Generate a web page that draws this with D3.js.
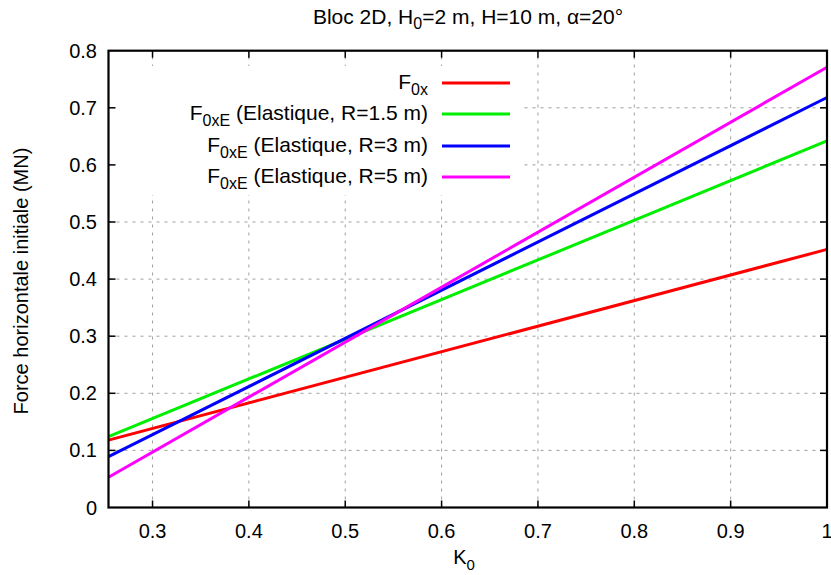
<!DOCTYPE html>
<html><head><meta charset="utf-8">
<script src="https://cdn.jsdelivr.net/npm/d3@7"></script>
<style>
body{margin:0;background:#fff;}
text{font-family:"Liberation Sans",Arial,Helvetica,sans-serif;fill:#000;}
</style></head>
<body>
<svg id="c" width="831" height="575"></svg>
<script>
// Data
const k0 = [0.2543, 1.0];
const f0x = [0.118, 0.452];
const f0xE_R15 = [0.124, 0.642];
const f0xE_R3 = [0.089, 0.718];
const f0xE_R5 = [0.053, 0.771];
const xTicks = [0.3, 0.4, 0.5, 0.6, 0.7, 0.8, 0.9, 1.0];
const xTickLabels = ["0.3","0.4","0.5","0.6","0.7","0.8","0.9","1"];
const yTicks = [0, 0.1, 0.2, 0.3, 0.4, 0.5, 0.6, 0.7, 0.8];
const yTickLabels = ["0","0.1","0.2","0.3","0.4","0.5","0.6","0.7","0.8"];
const seriesLabels = [
  {sub:"0x", rest:""},
  {sub:"0xE", rest:" (Elastique, R=1.5 m)"},
  {sub:"0xE", rest:" (Elastique, R=3 m)"},
  {sub:"0xE", rest:" (Elastique, R=5 m)"}
];
const seriesValues = [f0x, f0xE_R15, f0xE_R3, f0xE_R5];
const seriesColors = ["#ff0000", "#00ee00", "#0000ff", "#ff00ff"];

const svg = d3.select("#c");
const L = 108.5, R = 827, T = 50.7, B = 507.5;
const x = d3.scaleLinear().domain([0.2543, 1.0]).range([L, R]);
const y = d3.scaleLinear().domain([0, 0.8]).range([B, T]);
const FS = 20, FL = 21;

// grid
const grid = svg.append("g");
grid.selectAll(".gx").data(xTicks.filter(v => v < 1)).join("line")
  .attr("x1", d => x(d)).attr("x2", d => x(d)).attr("y1", B).attr("y2", T)
  .attr("stroke", "#888").attr("stroke-width", 0.8).attr("stroke-dasharray", "3,5");
grid.selectAll(".gy").data(yTicks.filter(v => v > 0 && v < 0.8)).join("line")
  .attr("x1", L).attr("x2", R).attr("y1", d => y(d)).attr("y2", d => y(d))
  .attr("stroke", "#888").attr("stroke-width", 0.8).attr("stroke-dasharray", "3,5");

// legend background (hides grid)
svg.append("rect").attr("x", L + 1).attr("y", 66).attr("width", 520 - L).attr("height", 129).attr("fill", "#fff");

// series lines
const line = d3.line().x((d, i) => x(k0[i])).y(d => y(d));
svg.append("g").selectAll("path").data(seriesValues).join("path")
  .attr("d", d => line(d)).attr("fill", "none")
  .attr("stroke", (d, i) => seriesColors[i]).attr("stroke-width", 3);

// border
svg.append("rect").attr("x", L).attr("y", T).attr("width", R - L).attr("height", B - T)
  .attr("fill", "none").attr("stroke", "#000").attr("stroke-width", 2.2);

// ticks
const tk = 7;
const ticks = svg.append("g").attr("stroke", "#000").attr("stroke-width", 1.5);
xTicks.filter(v => v < 1).forEach(v => {
  ticks.append("line").attr("x1", x(v)).attr("x2", x(v)).attr("y1", B).attr("y2", B - tk);
  ticks.append("line").attr("x1", x(v)).attr("x2", x(v)).attr("y1", T).attr("y2", T + tk);
});
yTicks.filter(v => v > 0 && v < 0.8).forEach(v => {
  ticks.append("line").attr("x1", L).attr("x2", L + tk).attr("y1", y(v)).attr("y2", y(v));
  ticks.append("line").attr("x1", R).attr("x2", R - tk).attr("y1", y(v)).attr("y2", y(v));
});

// tick labels
svg.append("g").selectAll("text").data(xTicks).join("text")
  .attr("x", d => x(d)).attr("y", 538).attr("text-anchor", "middle")
  .attr("font-size", FS).text((d, i) => xTickLabels[i]);
svg.append("g").selectAll("text").data(yTicks).join("text")
  .attr("x", 97).attr("y", d => y(d) + 7).attr("text-anchor", "end")
  .attr("font-size", FS).text((d, i) => yTickLabels[i]);

// title
const title = svg.append("text").attr("x", 468).attr("y", 24).attr("text-anchor", "middle").attr("font-size", FL);
title.append("tspan").text("Bloc 2D, H");
title.append("tspan").attr("font-size", 16).attr("dy", 5).text("0");
title.append("tspan").attr("dy", -5).text("=2 m, H=10 m, α=20°");

// x label
const xl = svg.append("text").attr("x", 464).attr("y", 564).attr("text-anchor", "middle").attr("font-size", FS);
xl.append("tspan").text("K");
xl.append("tspan").attr("font-size", 15).attr("dy", 6).text("0");

// y label
svg.append("text").attr("transform", "translate(28,281) rotate(-90)").attr("text-anchor", "middle")
  .attr("font-size", FS).text("Force horizontale initiale (MN)");

// legend
const rowsY = [83, 114, 146, 177];
const lg = svg.append("g");
seriesLabels.forEach((s, i) => {
  const t = lg.append("text").attr("x", 428).attr("y", rowsY[i] + 6).attr("text-anchor", "end").attr("font-size", FL);
  t.append("tspan").text("F");
  t.append("tspan").attr("font-size", 16).attr("dy", 6).text(s.sub);
  if (s.rest) t.append("tspan").attr("dy", -6).text(s.rest);
  lg.append("line").attr("x1", 442).attr("x2", 510).attr("y1", rowsY[i]).attr("y2", rowsY[i])
    .attr("stroke", seriesColors[i]).attr("stroke-width", 3);
});
</script>
</body></html>
